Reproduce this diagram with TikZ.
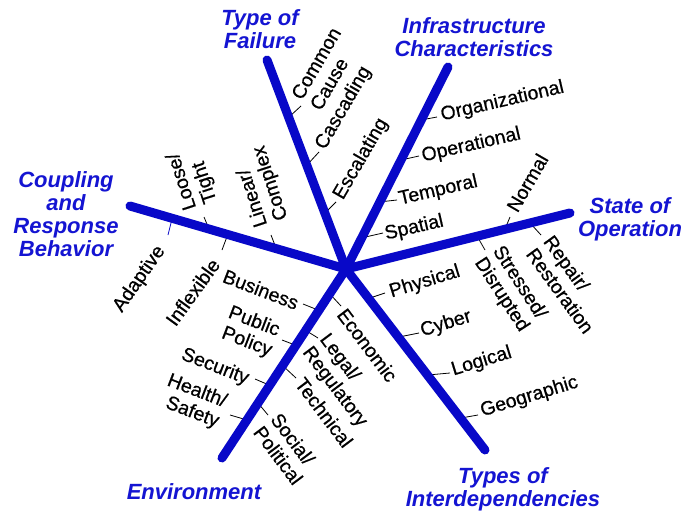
\documentclass[tikz,border=0pt]{standalone}
\usepackage{fontspec}
\setmainfont{Liberation Sans}
\newfontfamily\labfam{Liberation Sans}[FakeBold=0.6]
\definecolor{spokeblue}{RGB}{8,8,200}
\definecolor{titleblue}{RGB}{20,20,210}
\newcommand{\labfont}{\labfam\fontsize{19.5}{21.5}\selectfont}
\newcommand{\ttlfont}{\fontsize{22}{23}\selectfont\bfseries\itshape}
\newcommand{\tlabel}[8]{%
  \coordinate (#1s) at #2;
  \coordinate (#1e) at #3;
  \draw[ticksty] (#1s) -- (#1e);
  \node[lab, anchor=#5, rotate=#6, align=#7] (#1) at #4 {#8};}
\begin{document}
\begin{tikzpicture}[x=1pt,y=-1pt,
  spoke/.style={line width=9pt, line cap=round, draw=spokeblue},
  ticksty/.style={line width=0.8pt, draw=black},
  lab/.style={font=\labfont, inner sep=1pt},
  ttl/.style={font=\ttlfont, text=titleblue, align=center, inner sep=0pt}]
\useasboundingbox (0,0) rectangle (683,514);
\fill[white] (0,0) rectangle (683,514);

% hub and spoke ends
\coordinate (hub) at (346,269);
\coordinate (eF) at (267,60);
\coordinate (eI) at (448,67);
\coordinate (eS) at (570,213);
\coordinate (eT) at (485,450);
\coordinate (eE) at (222,458);
\coordinate (eC) at (130,206);

% Infrastructure Characteristics
\tlabel{org}{(421,120)}{(437,117)}{(440,116)}{west}{13}{left}{Organizational}
\tlabel{ope}{(401,160)}{(419,156)}{(421,157)}{west}{13}{left}{Operational}
\tlabel{tem}{(379,202)}{(397,200)}{(398,200)}{west}{13}{left}{Temporal}
\tlabel{spa}{(361,238)}{(383,233)}{(384,235)}{west}{13}{left}{Spatial}

% Type of Failure
\tlabel{com}{(289,117)}{(301,106)}{(305,104)}{west}{60}{left}{Common\\Cause}
\tlabel{cas}{(307,165)}{(319,152)}{(320,149)}{west}{60}{left}{Cascading}
\tlabel{esc}{(325,213)}{(336,202)}{(338,199)}{west}{60}{left}{Escalating}

% Coupling and Response Behavior
\tlabel{loo}{(209,229)}{(204,217)}{(202,207)}{west}{108}{left}{Loose/\\Tight}
\tlabel{lin}{(276,248)}{(271,235)}{(273,224)}{west}{108}{left}{Linear/\\Complex}
\coordinate (adas) at (172,219);
\coordinate (adae) at (168,235);
\draw[ticksty, draw=spokeblue] (adas) -- (adae);
\node[lab, anchor=east, rotate=55] (ada) at (162,247) {Adaptive};
\tlabel{inf}{(228,234)}{(222,250)}{(216,260)}{east}{54}{right}{Inflexible}

% State of Operation
\tlabel{nor}{(505,229)}{(510,217)}{(511,211)}{west}{60}{left}{Normal}
\tlabel{str}{(477,236)}{(485,250)}{(487,253)}{west}{-57}{left}{Stressed/\\Disrupted}
\tlabel{rep}{(530,223)}{(541,235)}{(539,243)}{west}{-54}{left}{Repair/\\Restoration}

% Types of Interdependencies
\tlabel{phy}{(370,298)}{(385,293)}{(389,293)}{west}{17}{left}{Physical}
\tlabel{cyb}{(399,337)}{(419,333)}{(420,332)}{west}{17}{left}{Cyber}
\tlabel{log}{(428,375)}{(450,373)}{(451,371)}{west}{17}{left}{Logical}
\tlabel{geo}{(461,418)}{(478,415)}{(480,412)}{west}{17}{left}{Geographic}

% Environment (left side)
\tlabel{bus}{(318,310)}{(303,304)}{(299,304)}{east}{-21}{right}{Business}
\tlabel{pub}{(295,345)}{(282,340)}{(276,342)}{east}{-21}{right}{Public\\Policy}
\tlabel{sec}{(269,385)}{(255,379)}{(249,380)}{east}{-21}{right}{Security}
\tlabel{hea}{(247,420)}{(230,415)}{(223,413)}{east}{-21}{right}{Health/\\Safety}

% Environment (right side)
\tlabel{eco}{(329,293)}{(341,306)}{(341,310)}{west}{-53}{left}{Economic}
\tlabel{leg}{(305,330)}{(318,338)}{(314,342)}{west}{-53}{left}{Legal/\\Regulatory}
\tlabel{tec}{(282,365)}{(296,378)}{(299,379)}{west}{-53}{left}{Technical}
\tlabel{soc}{(258,403)}{(268,415)}{(266,421)}{west}{-53}{left}{Social/\\Political}

% spokes
\draw[spoke] (hub) -- (eF);
\draw[spoke] (hub) -- (eI);
\draw[spoke] (hub) -- (eS);
\draw[spoke] (hub) -- (eT);
\draw[spoke] (hub) -- (eE);
\draw[spoke] (hub) -- (eC);

% titles
\node[ttl] (tF) at (260,29) {Type of\\Failure};
\node[ttl] (tI) at (474,37) {Infrastructure\\Characteristics};
\node[ttl] (tS) at (630,219) {State of\\Operation};
\node[ttl] (tT) at (503,489) {Types of\\Interdependencies};
\node[ttl] (tE) at (194,492) {Environment};
\node[ttl] (tC) at (66,214) {Coupling\\and\\Response\\Behavior};
\end{tikzpicture}
\end{document}
